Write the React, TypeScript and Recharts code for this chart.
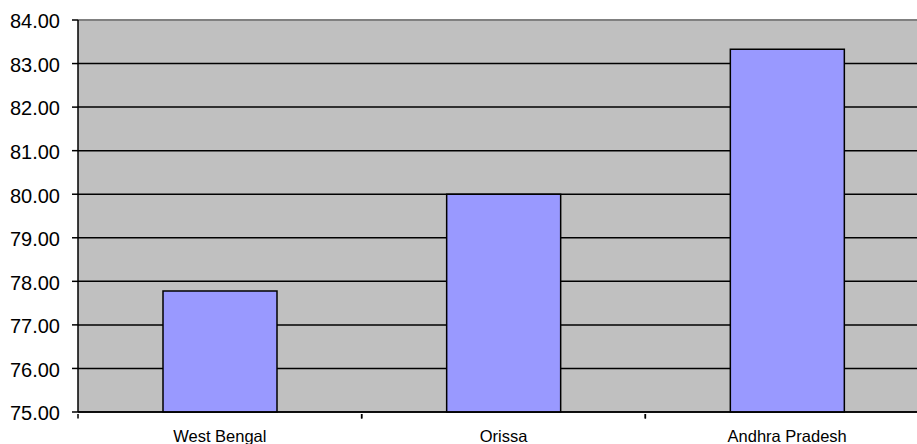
import React from "react";
import { BarChart, Bar, XAxis, YAxis, CartesianGrid, ReferenceLine } from "recharts";

// Literacy-style figures per state
const states = ["West Bengal", "Orissa", "Andhra Pradesh"];
const values = [77.78, 80.0, 83.33];
const yTicks = [75, 76, 77, 78, 79, 80, 81, 82, 83, 84];

const data = states.map((name, i) => ({ name, value: values[i] }));

const FONT = "'Liberation Sans', Arial, sans-serif";

const YTick = (props: any) => {
  const { x, y, payload } = props;
  return (
    <text x={x} y={y + 3} textAnchor="end" dominantBaseline="middle" fontFamily={FONT} fontSize={20} fill="#000">
      {Number(payload.value).toFixed(2)}
    </text>
  );
};

const XTick = (props: any) => {
  const { x, y, payload } = props;
  const half = payload.offset || 141.5;
  return (
    <g>
      <line x1={x - half} x2={x - half} y1={y - 6} y2={y - 1.5} stroke="#000" strokeWidth={1.5} />
      <line x1={x + half} x2={x + half} y1={y - 6} y2={y - 1.5} stroke="#000" strokeWidth={1.5} />
      <text x={x} y={y + 18} textAnchor="middle" dominantBaseline="middle" fontFamily={FONT} fontSize={16.5} fill="#000">
        {payload.value}
      </text>
    </g>
  );
};

export default function App() {
  return (
    <div style={{ position: "absolute", left: 0, top: 0, width: 917, height: 444, overflow: "hidden", background: "#fff" }}>
      <BarChart
        width={932}
        height={444}
        data={data}
        margin={{ top: 20, right: 3, bottom: 2, left: 8 }}
        barSize={114}
      >
        <CartesianGrid vertical={false} stroke="#000" strokeWidth={1.5} fill="#C0C0C0" fillOpacity={1} />
        <XAxis
          dataKey="name"
          height={30}
          axisLine={{ stroke: "#000", strokeWidth: 1.5 }}
          tickLine={false}
          tick={<XTick />}
          interval={0}
        />
        <YAxis
          width={70}
          domain={[75, 84]}
          ticks={yTicks}
          interval={0}
          axisLine={{ stroke: "#000", strokeWidth: 1.5 }}
          tickLine={{ stroke: "#000", strokeWidth: 1.5 }}
          tickSize={6}
          tickMargin={12}
          tick={<YTick />}
        />
        <Bar dataKey="value" fill="#9999FF" stroke="#000" strokeWidth={1.5} isAnimationActive={false} />
        <ReferenceLine y={84} stroke="#808080" strokeWidth={2} />
      </BarChart>
    </div>
  );
}
